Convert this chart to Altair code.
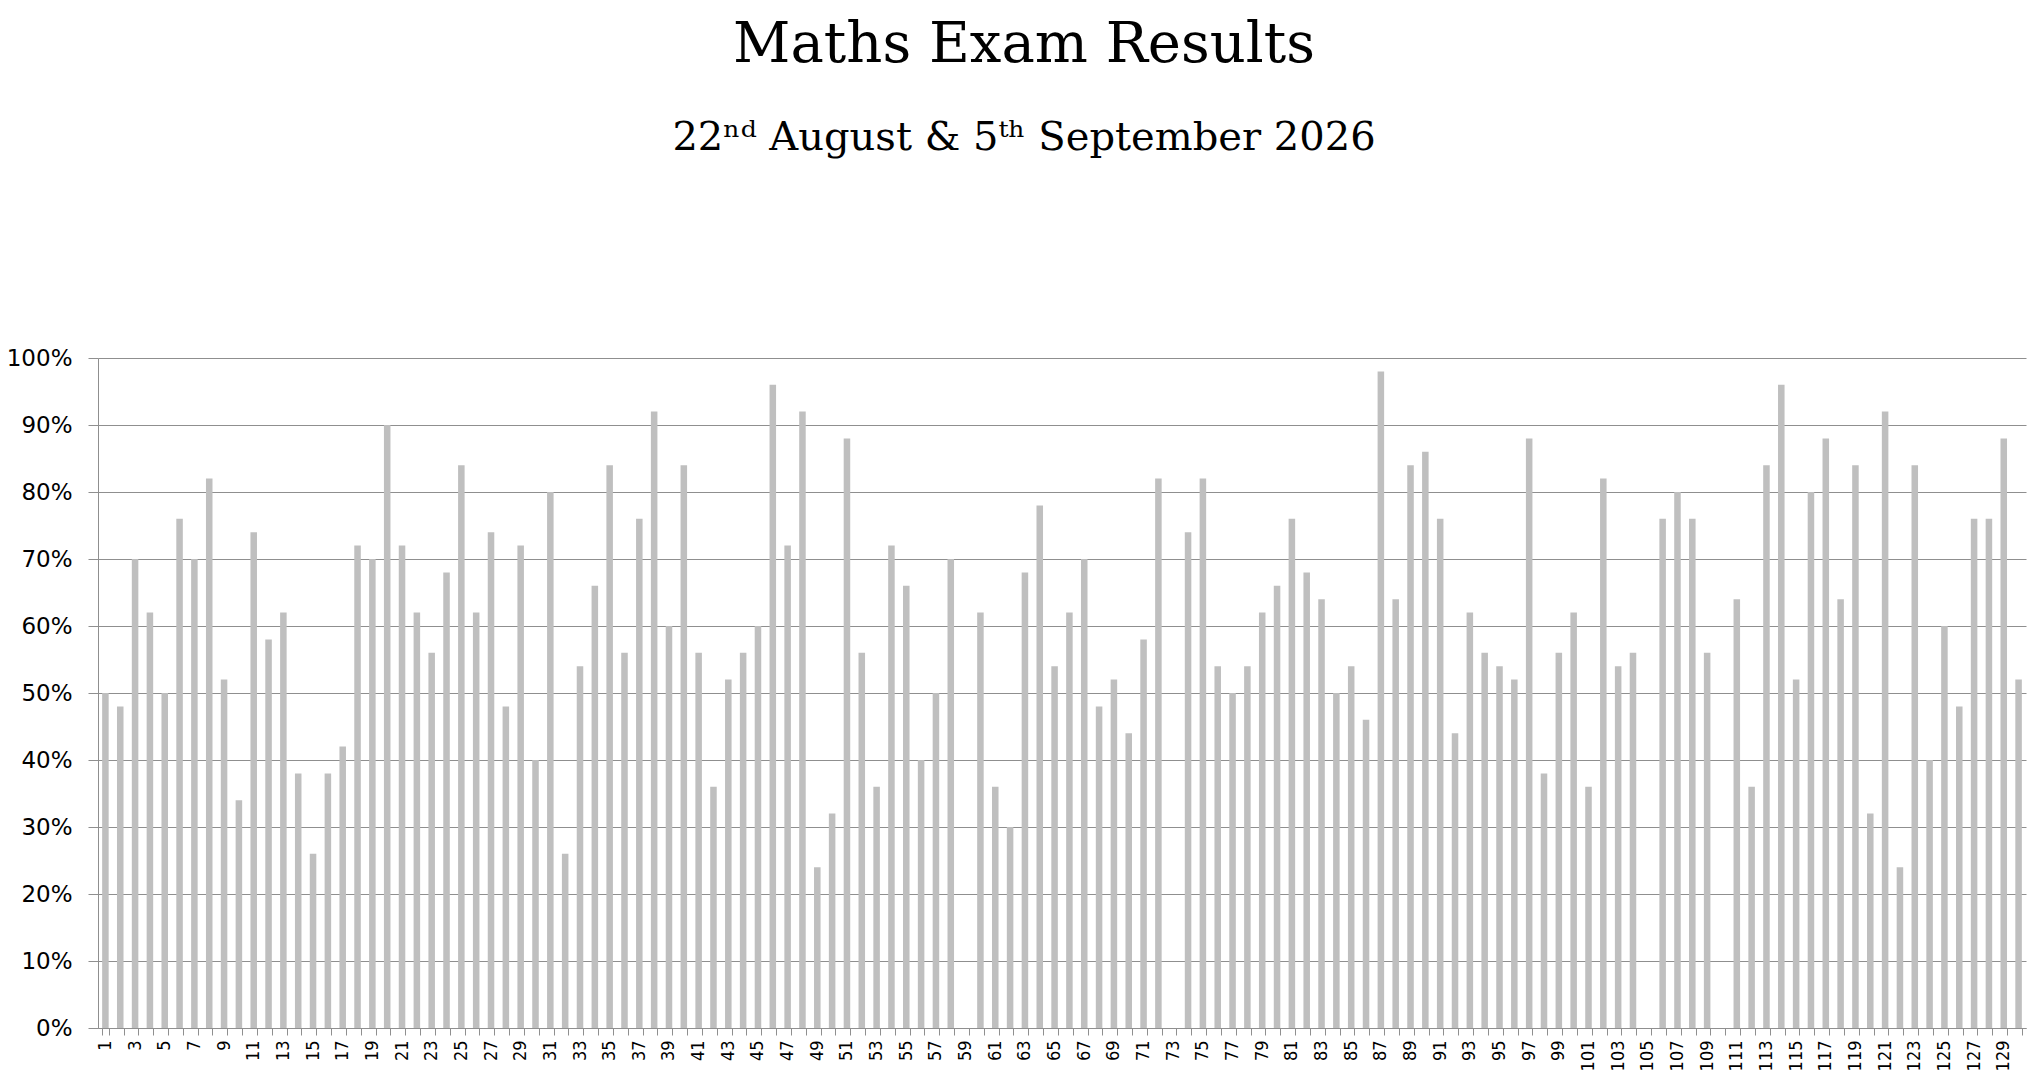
import altair as alt
import pandas as pd

students = list(range(1, 131))
scores = [
    50, 48, 70, 62, 50, 76, 70, 82, 52, 34,
    74, 58, 62, 38, 26, 38, 42, 72, 70, 90,
    72, 62, 56, 68, 84, 62, 74, 48, 72, 40,
    80, 26, 54, 66, 84, 56, 76, 92, 60, 84,
    56, 36, 52, 56, 60, 96, 72, 92, 24, 32,
    88, 56, 36, 72, 66, 40, 50, 70, None, 62,
    36, 30, 68, 78, 54, 62, 70, 48, 52, 44,
    58, 82, None, 74, 82, 54, 50, 54, 62, 66,
    76, 68, 64, 50, 54, 46, 98, 64, 84, 86,
    76, 44, 62, 56, 54, 52, 88, 38, 56, 62,
    36, 82, 54, 56, None, 76, 80, 76, 56, None,
    64, 36, 84, 96, 52, 80, 88, 64, 84, 32,
    92, 24, 84, 40, 60, 48, 76, 76, 88, 52,
]
y_ticks = [0, 0.1, 0.2, 0.3, 0.4, 0.5, 0.6, 0.7, 0.8, 0.9, 1.0]

title_text = "Maths Exam Results"
subtitle_text = "22\u207f\u1d48 August & 5\u1d57\u02b0 September 2026"

df = pd.DataFrame({
    "student": students,
    "score": [s / 100 if s is not None else None for s in scores],
})

chart = (
    alt.Chart(df)
    .mark_bar(color="#bfbfbf")
    .encode(
        x=alt.X(
            "student:O",
            scale=alt.Scale(domain=students, paddingInner=0.56, paddingOuter=0.28),
            axis=alt.Axis(
                title=None,
                labelAngle=-90,
                labelExpr="datum.value % 2 == 1 ? datum.label : ''",
                labelOverlap=False,
                labelFont="DejaVu Sans Condensed",
                labelFontSize=18,
                labelColor="black",
                labelPadding=5,
                tickBand="extent",
                tickSize=7,
                tickColor="#8f8f8f",
                domainColor="#8f8f8f",
                grid=False,
            ),
        ),
        y=alt.Y(
            "score:Q",
            scale=alt.Scale(domain=[0, 1], nice=False),
            axis=alt.Axis(
                title=None,
                values=y_ticks,
                format=".0%",
                labelFont="DejaVu Sans",
                labelFontSize=23,
                labelColor="black",
                labelPadding=16,
                tickSize=10,
                tickColor="#8f8f8f",
                domainColor="#8f8f8f",
                gridColor="#8f8f8f",
                gridWidth=1,
            ),
        ),
    )
    .properties(
        width=1928,
        height=670,
        autosize=alt.AutoSizeParams(type="none"),
        padding={"left": 90, "top": 350, "right": 6, "bottom": 46},
        title=alt.TitleParams(
            text=title_text,
            subtitle=subtitle_text,
            font="DejaVu Serif",
            fontSize=56,
            fontWeight="normal",
            color="black",
            subtitleFont="DejaVu Serif",
            subtitleFontSize=40,
            subtitleColor="black",
            subtitlePadding=44,
            anchor="middle",
            dx=-38,
            offset=188,
        ),
    )
    .configure_view(stroke=None)
)

chart.save("out.html", embed_options={"renderer": "svg", "actions": False})
